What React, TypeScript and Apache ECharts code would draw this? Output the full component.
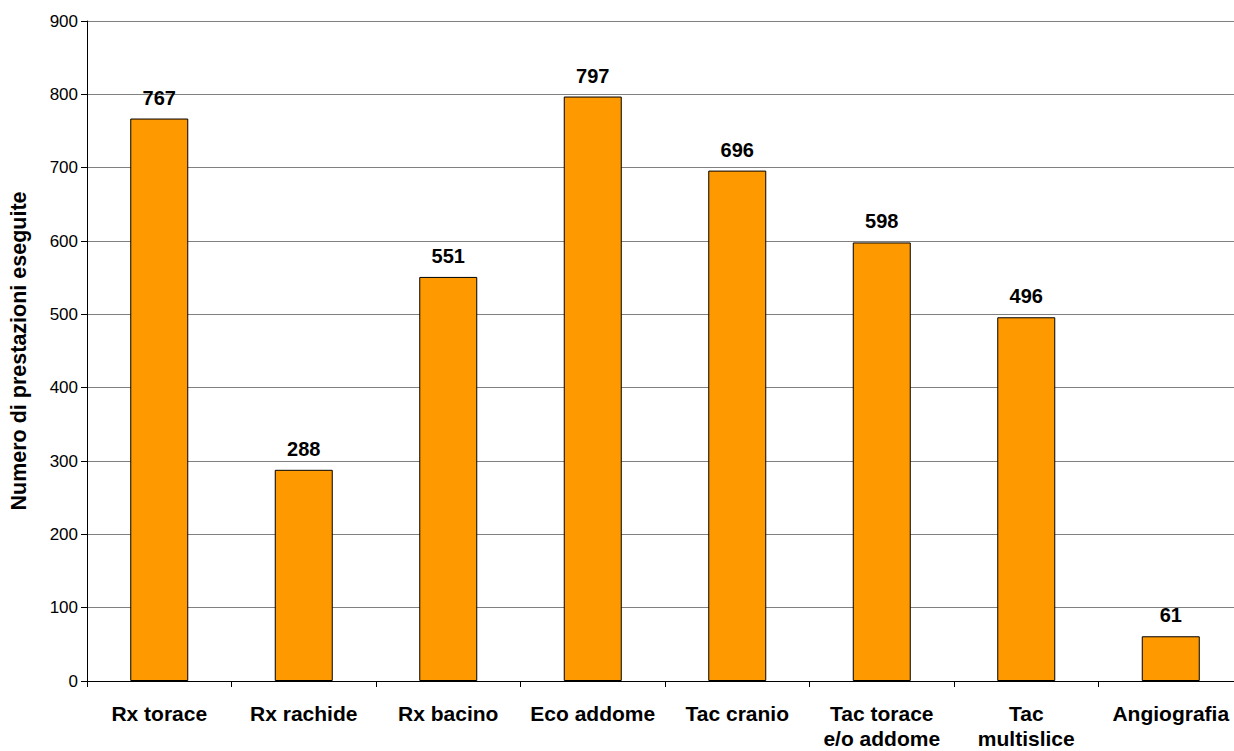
import React, { useEffect, useRef } from "react";
import * as echarts from "echarts";

const categories = [
  "Rx torace",
  "Rx rachide",
  "Rx bacino",
  "Eco addome",
  "Tac cranio",
  "Tac torace\ne/o addome",
  "Tac\nmultislice",
  "Angiografia",
];
const values = [767, 288, 551, 797, 696, 598, 496, 61];
const yAxisName = "Numero di prestazioni eseguite";

export default function App() {
  const ref = useRef<HTMLDivElement>(null);
  useEffect(() => {
    if (!ref.current) return;
    const chart = echarts.init(ref.current, null, { renderer: "svg" });
    const font = "'Liberation Sans', Arial, sans-serif";
    chart.setOption({
      animation: false,
      backgroundColor: "#ffffff",
      grid: { left: 85, right: 7, top: 21, bottom: 67 },
      xAxis: {
        type: "category",
        data: categories,
        boundaryGap: true,
        axisLine: { lineStyle: { color: "#000000", width: 1 } },
        axisTick: { show: true, alignWithLabel: false, length: 6, lineStyle: { color: "#000000" } },
        axisLabel: {
          interval: 0,
          margin: 20,
          fontFamily: font,
          fontSize: 21,
          fontWeight: "bold",
          color: "#000000",
          lineHeight: 25,
        },
      },
      yAxis: {
        type: "value",
        min: 0,
        max: 900,
        interval: 100,
        name: yAxisName,
        nameLocation: "middle",
        nameGap: 57,
        nameTextStyle: { fontFamily: font, fontSize: 21.5, fontWeight: "bold", color: "#000000" },
        axisLine: { show: true, lineStyle: { color: "#000000", width: 1 } },
        axisTick: { show: true, length: 6, lineStyle: { color: "#000000" } },
        axisLabel: { margin: 9, fontFamily: font, fontSize: 17, color: "#000000" },
        splitLine: { show: true, lineStyle: { color: "#808080", width: 1 } },
      },
      series: [
        {
          type: "bar",
          data: values,
          barWidth: 58,
          itemStyle: { color: "#FF9900", borderColor: "#000000", borderWidth: 1 },
          label: {
            show: true,
            position: "top",
            distance: 11,
            fontFamily: font,
            fontSize: 20,
            fontWeight: "bold",
            color: "#000000",
          },
        },
      ],
    });
    return () => chart.dispose();
  }, []);
  return (
    <div style={{ position: "fixed", left: 0, top: 0, width: 1234, height: 751, overflow: "hidden", background: "#fff" }}>
      <div ref={ref} style={{ width: 1250, height: 751 }} />
    </div>
  );
}
